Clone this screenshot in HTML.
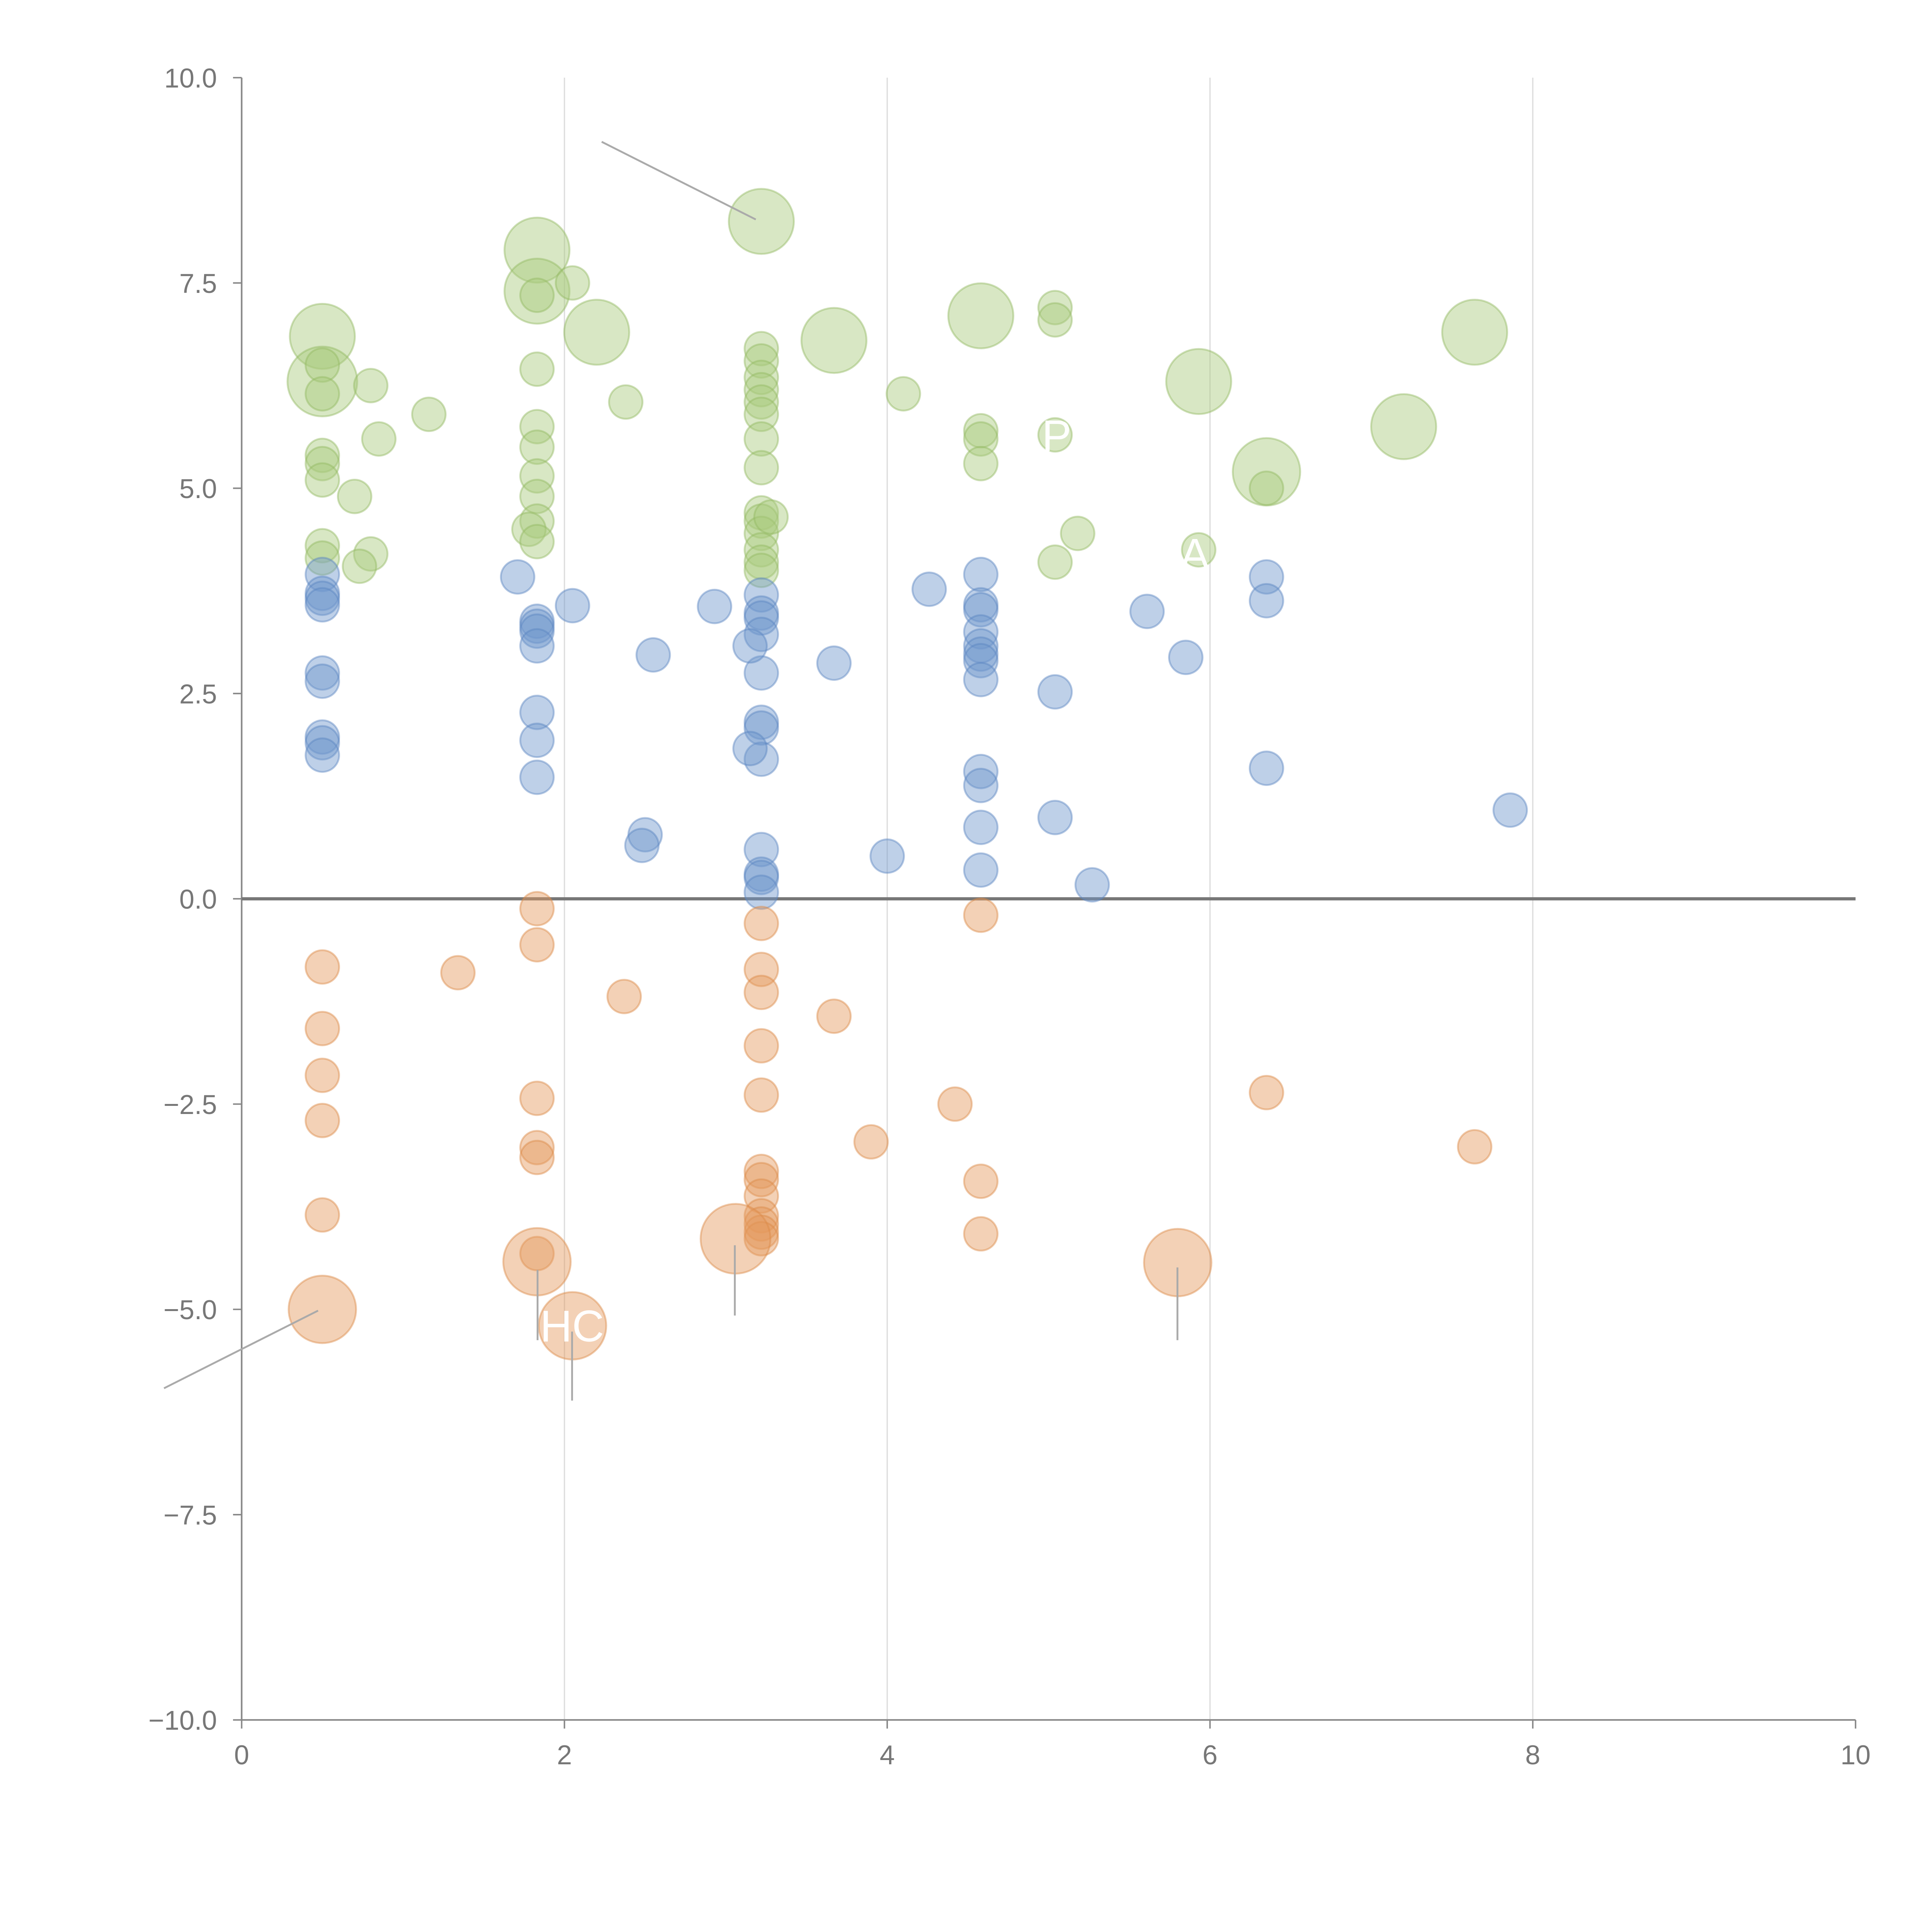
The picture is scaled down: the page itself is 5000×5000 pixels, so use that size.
<!DOCTYPE html>
<html><head><meta charset="utf-8"><style>
html,body{margin:0;padding:0;background:#fff;}
svg{display:block;}
text{font-family:"Liberation Sans",sans-serif;}
</style></head><body>
<svg id="chart" width="5000" height="5000" viewBox="0 0 1567 1567" xmlns="http://www.w3.org/2000/svg">
<g id="grid"></g>
<g id="axes"></g>
<g id="marks"></g>
<g id="annot"></g>
</svg>
<script>
const xTicks=[0,2,4,6,8,10];
const yTicks=[10,7.5,5,2.5,0,-2.5,-5,-7.5,-10];
const yTickLabels=["10.0","7.5","5.0","2.5","0.0","\u22122.5","\u22125.0","\u22127.5","\u221210.0"];
// green series
const greenX=[0.5,0.5,0.5,0.5,0.5,0.5,0.5,0.5,0.5,0.8,0.7,0.85,0.8,0.73,1.16,1.83,1.83,1.83,1.83,1.83,1.83,1.83,1.83,1.83,1.78,1.83,2.05,2.2,2.38,3.22,3.22,3.22,3.22,3.22,3.22,3.22,3.22,3.22,3.22,3.22,3.22,3.22,3.22,3.22,3.28,3.67,4.1,4.58,4.58,4.58,4.58,5.04,5.04,5.04,5.04,5.18,5.93,5.93,6.35,6.35,7.2,7.64];
const greenY=[6.85,6.3,6.5,6.15,5.4,5.3,5.1,4.3,4.15,6.25,4.9,5.6,4.2,4.05,5.9,7.9,7.4,7.35,6.45,5.75,5.5,5.15,4.9,4.6,4.5,4.35,7.5,6.9,6.05,8.25,6.7,6.55,6.35,6.2,6.05,5.9,5.6,5.25,4.7,4.6,4.45,4.25,4.1,4.0,4.65,6.8,6.15,7.1,5.7,5.6,5.3,7.2,7.05,5.65,4.1,4.45,6.3,4.25,5.2,5.0,5.75,6.9];
const greenS=[4,4.6,1,1,1,1,1,1,1,1,1,1,1,1,1,4,4,1,1,1,1,1,1,1,1,1,1,4,1,4,1,1,1,1,1,1,1,1,1,1,1,1,1,1,1,4,1,4,1,1,1,1,1,1,1,1,4,1,4.3,1,4,4];
// blue series
const blueX=[0.5,0.5,0.5,0.5,0.5,0.5,0.5,0.5,0.5,1.71,1.83,1.83,1.83,1.83,1.83,1.83,1.83,2.05,2.55,2.5,2.48,2.93,3.22,3.22,3.22,3.22,3.22,3.22,3.22,3.22,3.22,3.22,3.22,3.22,3.15,3.15,3.67,4.0,4.26,4.58,4.58,4.58,4.58,4.58,4.58,4.58,4.58,4.58,4.58,4.58,4.58,5.04,5.04,5.27,5.61,5.85,6.35,6.35,6.35,7.86];
const blueY=[3.95,3.72,3.66,3.58,2.75,2.65,1.97,1.9,1.75,3.92,3.38,3.32,3.26,3.08,2.27,1.93,1.48,3.57,2.97,0.78,0.65,3.56,3.7,3.48,3.42,3.22,2.75,2.15,2.08,1.7,0.6,0.3,0.26,0.08,3.08,1.83,2.87,0.52,3.77,3.95,3.58,3.52,3.25,3.08,2.98,2.9,2.67,1.55,1.38,0.87,0.35,2.52,0.99,0.17,3.5,2.94,3.92,3.63,1.59,1.08];
// orange series
const orangeX=[0.5,0.5,0.5,0.5,0.5,0.5,1.34,1.83,1.83,1.83,1.83,1.83,1.83,1.83,2.05,2.37,3.22,3.22,3.22,3.22,3.22,3.22,3.22,3.22,3.22,3.22,3.22,3.22,3.06,3.67,3.9,4.42,4.58,4.58,4.58,5.8,6.35,7.64];
const orangeY=[-0.83,-1.58,-2.15,-2.7,-3.85,-5.0,-0.9,-0.12,-0.56,-2.43,-3.03,-3.15,-4.32,-4.42,-5.2,-1.19,-0.3,-0.86,-1.14,-1.79,-2.39,-3.32,-3.42,-3.62,-3.86,-3.96,-4.06,-4.14,-4.14,-1.43,-2.96,-2.5,-0.2,-3.44,-4.08,-4.43,-2.36,-3.02];
const orangeS=[1,1,1,1,1,4.3,1,1,1,1,1,1,1,4.3,4.3,1,1,1,1,1,1,1,1,1,1,1,1,1,4.6,1,1,1,1,1,1,4.3,1,1];

const NS="http://www.w3.org/2000/svg";
const X0=196,X1=1505,Y0=1395,Y1=63;
function sx(v){return X0+(v-0)/(10-0)*(X1-X0);}
function sy(v){return Y0-(v+10)/20*(Y0-Y1);}
function mk(tag,attrs,parent){const e=document.createElementNS(NS,tag);for(const k in attrs)e.setAttribute(k,attrs[k]);parent.appendChild(e);return e;}
const grid=document.getElementById('grid'),axes=document.getElementById('axes'),marks=document.getElementById('marks'),annot=document.getElementById('annot');
xTicks.forEach(t=>{
  if(t>0&&t<10){const g=mk('line',{x1:sx(t),x2:sx(t),y1:Y1,y2:Y0,stroke:'#dcdcdc','stroke-width':1},grid);
  
  }
  const tk=mk('line',{x1:sx(t),x2:sx(t),y1:Y0,y2:Y0+7,stroke:'#888','stroke-width':1.2},axes);
  
  
  const tx=mk('text',{x:sx(t),y:Y0+36,'font-size':22,fill:'#777','text-anchor':'middle'},axes);
  tx.textContent=t;
  
  
});
yTicks.forEach((t,i)=>{
  const tk=mk('line',{x1:X0-7,x2:X0,y1:sy(t),y2:sy(t),stroke:'#888','stroke-width':1.2},axes);
  
  
  const tx=mk('text',{x:X0-20,y:sy(t)+8,'font-size':22,fill:'#777','text-anchor':'end'},axes);
  tx.textContent=yTickLabels[i];
  
  
});
let a=mk('line',{x1:X0,x2:X0,y1:Y1,y2:Y0,stroke:'#888','stroke-width':1.3},axes);


a=mk('line',{x1:X0,x2:X1,y1:Y0,y2:Y0,stroke:'#888','stroke-width':1.3},axes);


a=mk('line',{x1:X0,x2:X1,y1:sy(0),y2:sy(0),stroke:'#777','stroke-width':2.6},axes);



function series(xs,ys,ss,fill,stroke,name){
  xs.forEach((x,i)=>{
    const s=ss?ss[i]:1;
    const c=mk('circle',{cx:sx(x),cy:sy(ys[i]),r:13.6*Math.sqrt(s)*(s>1?0.97:1),fill:fill,'fill-opacity':0.45,stroke:stroke,'stroke-opacity':0.45,'stroke-width':1.5},marks);
    
    
  });
}
series(greenX,greenY,greenS,'#a9c97c','#93b862','green-bubble');
series(blueX,blueY,null,'#6f97cb','#5a86c0','blue-bubble');
series(orangeX,orangeY,orangeS,'#e59a5e','#dc8a48','orange-bubble');

const leaders=[[488,115,613,178],[133,1126,258,1063],[436,1030,436,1087],[464,1080,464,1136],[596,1010,596,1067],[955,1028,955,1087]];
leaders.forEach(l=>{
  const e=mk('line',{x1:l[0],y1:l[1],x2:l[2],y2:l[3],stroke:'#aaa','stroke-width':1.5},annot);
  
  
});
[["HC",438,1088],["P",845,366],["A",957,462]].forEach(t=>{
  const e=mk('text',{x:t[1],y:t[2],'font-size':36,fill:'#fff'},annot);
  e.textContent=t[0];
  
  
});
</script>
</body></html>
